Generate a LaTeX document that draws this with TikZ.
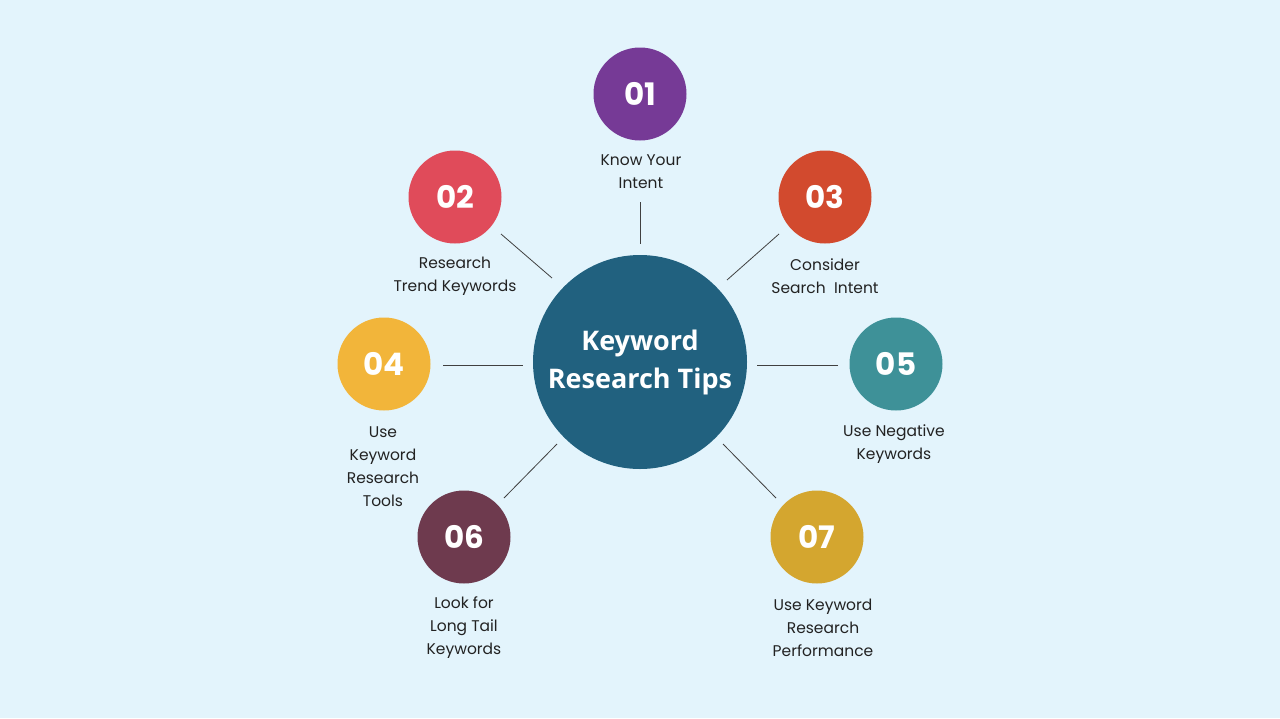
\documentclass[tikz,border=0pt]{standalone}
\usepackage{fontspec}
\setmainfont{Poppins}
\newfontfamily\titlefont{Open Sans}
\definecolor{bg}{HTML}{E3F4FC}
\definecolor{hub}{HTML}{21617F}
\definecolor{cA}{HTML}{763A96}
\definecolor{cB}{HTML}{E04B5A}
\definecolor{cC}{HTML}{D24A2E}
\definecolor{cD}{HTML}{F2B53A}
\definecolor{cE}{HTML}{3E9198}
\definecolor{cF}{HTML}{6E3A4E}
\definecolor{cG}{HTML}{D4A62F}
\definecolor{txt}{HTML}{222222}
\tikzset{
  num/.style={circle,minimum size=93pt,inner sep=0pt,text=white,font=\fontsize{31}{31}\selectfont\bfseries},
  lbl/.style={align=center,text=txt,font=\fontsize{15.5}{23}\selectfont},
  conn/.style={draw=black!75,line width=0.8pt}
}
\begin{document}
\begin{tikzpicture}[x=1pt,y=-1pt]
\fill[bg] (0,0) rectangle (1280,718);
\useasboundingbox (0,0) rectangle (1280,718);
\node[circle,fill=hub,minimum size=214pt,text=white,align=center,font=\titlefont\fontsize{27}{38}\selectfont\bfseries] (hub) at (640,362) {Keyword\\Research Tips};
\node[num,fill=cA] (n1) at (640,94) {01};
\node[num,fill=cB] (n2) at (455,197) {02};
\node[num,fill=cC] (n3) at (825,197) {03};
\node[num,fill=cD] (n4) at (384,364) {04};
\node[num,fill=cE] (n5) at (896,364) {05};
\node[num,fill=cF] (n6) at (464,537) {06};
\node[num,fill=cG] (n7) at (817,537) {07};
\node[lbl] (l1) at (641,172) {Know Your\\Intent};
\node[lbl] (l2) at (455,276) {Research\\Trend Keywords};
\node[lbl] (l3) at (825,276) {Consider\\Search\ \ Intent};
\node[lbl] (l4) at (383,467) {Use\\Keyword\\Research\\Tools};
\node[lbl] (l5) at (894,444) {Use Negative\\Keywords};
\node[lbl] (l6) at (464,628) {Look for\\Long Tail\\Keywords};
\node[lbl] (l7) at (823,628) {Use Keyword\\Research\\Performance};
\coordinate (a1) at (640,202); \coordinate (b1) at (640,244);
\coordinate (a2) at (501,234); \coordinate (b2) at (552,278);
\coordinate (a3) at (779,234); \coordinate (b3) at (727,280);
\coordinate (a4) at (443,365); \coordinate (b4) at (523,365);
\coordinate (a5) at (838,365); \coordinate (b5) at (757,365);
\coordinate (a6) at (504,498); \coordinate (b6) at (557,444);
\coordinate (a7) at (776,498); \coordinate (b7) at (723,444);
\foreach \i in {1,...,7} \draw[conn] (a\i) -- (b\i);
\end{tikzpicture}
\end{document}
